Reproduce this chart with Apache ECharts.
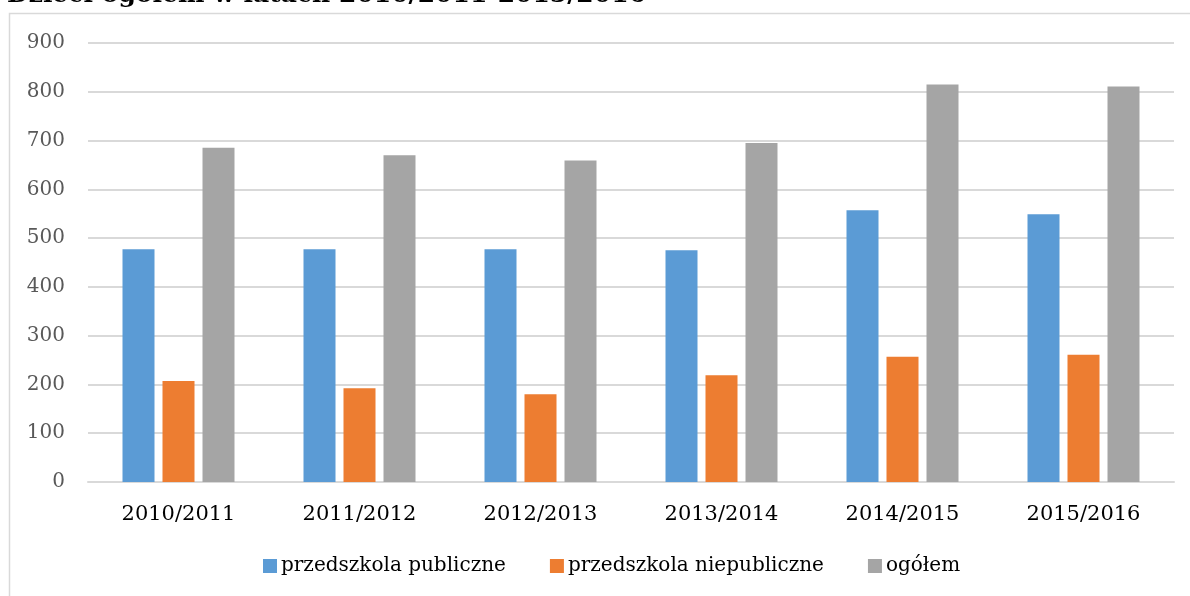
<!doctype html>
<html>
<head>
<meta charset="utf-8">
<title>Przedszkola 2010/2011-2015/2016</title>
<script src="https://cdn.jsdelivr.net/npm/echarts@6/dist/echarts.min.js"></script>
<style>
html,body{margin:0;padding:0;background:#fff;}
</style>
</head>

<body>
<div id="echarts" style="width:1190px;height:596px;"></div>
<script type="text/javascript">
var lata=['2010/2011','2011/2012','2012/2013','2013/2014','2014/2015','2015/2016'];
var publiczne=[477,477,477,475,557,549];
var niepubliczne=[207,192,180,219,257,261];
var ogolem=[685,670,659,695,815,811];
var osY=[0,100,200,300,400,500,600,700,800,900];

var serif='"DejaVu Serif", "Liberation Serif", serif';
var mychart=echarts.init(document.getElementById('echarts'));
mychart.setOption({
	animation:false,
	title:{
		text:'Dzieci ogółem w latach 2010/2011-2015/2016',
		left:2,
		top:-22,
		textStyle:{
			color:'#000',
			fontFamily:serif,
			fontWeight:'bold',
			fontSize:25
		}
	},
	graphic:[{
		type:'rect',
		shape:{x:9.5,y:13.5,width:1200,height:600},
		style:{fill:'none',stroke:'#d9d9d9',lineWidth:1.5},
		silent:true
	}],
	legend:{
		data:['przedszkola publiczne','przedszkola niepubliczne','ogółem'],
		bottom:15,
		left:258,
		itemWidth:14,
		itemHeight:14,
		itemGap:44,
		icon:'rect',
		textStyle:{
			color:'#000',
			fontFamily:serif,
			fontSize:20,
			padding:[0,0,0,-1]
		}
	},
	grid:{
		left:88,
		right:16,
		top:43,
		bottom:114,
		containLabel:false
	},
	xAxis:{
		type:'category',
		data:lata,
		axisLine:{lineStyle:{color:'#d9d9d9',width:2}},
		axisTick:{show:false},
		axisLabel:{
			color:'#000',
			fontFamily:serif,
			fontSize:21,
			margin:22
		}
	},
	yAxis:{
		type:'value',
		min:osY[0],
		max:osY[osY.length-1],
		interval:100,
		axisLine:{show:false},
		axisTick:{show:false},
		axisLabel:{
			color:'#595959',
			fontFamily:serif,
			fontSize:20,
			margin:23
		},
		splitLine:{lineStyle:{color:'#d9d9d9',width:2}}
	},
	series:[{
		name:'przedszkola publiczne',
		type:'bar',
		data:publiczne,
		barWidth:32,
		barGap:'25%',
		itemStyle:{color:'#5b9bd5'}
	},{
		name:'przedszkola niepubliczne',
		type:'bar',
		data:niepubliczne,
		barWidth:32,
		barGap:'25%',
		itemStyle:{color:'#ed7d31'}
	},{
		name:'ogółem',
		type:'bar',
		data:ogolem,
		barWidth:32,
		barGap:'25%',
		itemStyle:{color:'#a5a5a5'}
	}]
});
</script>
</body>
</html>
